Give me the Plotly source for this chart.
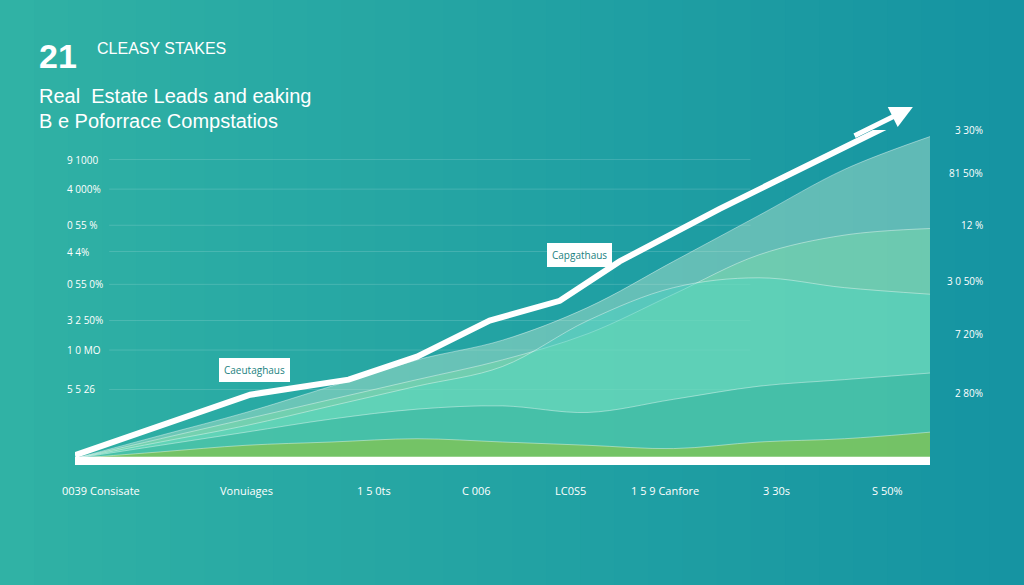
import plotly.graph_objects as go

x = [0, 10, 20, 30, 40, 50, 60, 70, 80, 90, 100]
layer_top = [0, 7, 14, 22, 30, 36, 46, 60, 74, 88, 98]
layer_mid = [0, 6, 12, 18, 24, 30, 38, 50, 62, 68, 70]
layer_cyan = [0, 5, 10, 16, 22, 28, 42, 52, 55, 52, 50]
layer_low = [0, 4, 8, 12, 15, 16, 14, 18, 22, 24, 26]
layer_green = [0, 2, 4, 5, 6, 5, 4, 3, 5, 6, 8]
trend_x = [0, 20.5, 32, 40, 48.5, 56.7, 63.7, 75.4, 98]
trend_y = [1, 19.4, 24, 31, 42, 48, 60, 76, 105]

left_ticks = ["9 1000", "4 000%", "0 55 %", "4 4%", "0 55 0%", "3 2 50%", "1 0 MO", "5 5 26"]
left_pos = [91, 82, 71, 63, 53, 42, 33, 21]
right_ticks = ["3 30%", "81 50%", "12 %", "3 0 50%", "7 20%", "2 80%"]
right_pos = [100, 87, 71, 54, 38, 20]
bottom_ticks = ["0039 Consisate", "Vonuiages", "1 5 0ts", "C 006", "LC0S5", "1 5 9 Canfore", "3 30s", "S 50%"]
bottom_pos = [3, 20, 35, 47, 58, 69, 82, 95]

fig = go.Figure()
layers = [
    (layer_top, "rgba(215,245,215,0.38)"),
    (layer_mid, "rgba(130,225,165,0.38)"),
    (layer_cyan, "rgba(70,215,195,0.40)"),
    (layer_low, "rgba(40,170,150,0.45)"),
    (layer_green, "rgba(125,195,90,0.85)"),
]
for ys, c in layers:
    fig.add_trace(go.Scatter(x=x, y=ys, fill="tozeroy", mode="lines", fillcolor=c,
                             line=dict(color="rgba(255,255,255,0.4)", width=1, shape="spline"),
                             hoverinfo="skip"))
fig.add_trace(go.Scatter(x=trend_x, y=trend_y, mode="lines", line=dict(color="white", width=6),
                         hoverinfo="skip"))

shapes = []
n = 30
X0, X1 = -75 / 855, 1 + 94 / 855
Y0, Y1 = -120 / 335, 1 + 130 / 335
for i in range(n):
    t = i / (n - 1)
    r = int(48 + (22 - 48) * t); g = int(178 + (148 - 178) * t); b = int(165 + (162 - 165) * t)
    shapes.append(dict(type="rect", xref="paper", yref="paper", x0=X0 + (X1 - X0) * i / n,
                       x1=X0 + (X1 - X0) * (i + 1) / n + 0.002,
                       y0=Y0, y1=Y1, fillcolor=f"rgb({r},{g},{b})", line=dict(width=0), layer="below"))
for p in left_pos:
    shapes.append(dict(type="line", xref="paper", yref="y", x0=0.04, x1=0.79, y0=p, y1=p,
                       line=dict(color="rgba(255,255,255,0.15)", width=1), layer="below"))
shapes.append(dict(type="rect", xref="x", yref="y", x0=0, x1=100, y0=-2, y1=0.5,
                   fillcolor="white", line=dict(width=0)))
ann = []
for t, p in zip(left_ticks, left_pos):
    ann.append(dict(text=t, x=-0.012, xref="paper", y=p, yref="y", xanchor="left", showarrow=False,
                    font=dict(color="white", size=10)))
for t, p in zip(right_ticks, right_pos):
    ann.append(dict(text=t, x=1.064, xref="paper", y=p, yref="y", xanchor="right", showarrow=False,
                    font=dict(color="white", size=10)))
for t, p in zip(bottom_ticks, bottom_pos):
    ann.append(dict(text=t, x=p, xref="x", y=-0.104, yref="paper", showarrow=False,
                    font=dict(color="white", size=11)))
ann += [
    dict(text="<b>21</b>", x=-0.045, y=1.285, xref="paper", yref="paper", xanchor="left", showarrow=False,
         font=dict(color="white", size=34, family="Liberation Sans")),
    dict(text="CLEASY STAKES", x=0.023, y=1.275, xref="paper", yref="paper", xanchor="left", showarrow=False,
         font=dict(color="white", size=16, family="Liberation Sans")),
    dict(text="Real  Estate Leads and eaking", x=-0.045, y=1.14, xref="paper", yref="paper", xanchor="left",
         showarrow=False, font=dict(color="white", size=20, family="Liberation Sans")),
    dict(text="B e Poforrace Compstatios", x=-0.045, y=1.065, xref="paper", yref="paper", xanchor="left",
         showarrow=False, font=dict(color="white", size=20, family="Liberation Sans")),
    dict(x=98, y=107, ax=91, ay=98, xref="x", yref="y", axref="x", ayref="y", text="", showarrow=True,
         arrowhead=2, arrowsize=0.9, arrowwidth=5, arrowcolor="white"),
]
for t, xx, yy in [("Ceasty Orates", 87, 113), ("Capgathaus", 59, 62), ("Caeutaghaus", 21, 27)]:
    ann.append(dict(text=t, x=xx, y=yy, xref="x", yref="y", showarrow=False, bgcolor="white",
                    bordercolor="white", borderpad=4, font=dict(color="#1a7f80", size=10)))

fig.update_layout(width=1024, height=585, margin=dict(l=75, r=94, t=130, b=120),
                  paper_bgcolor="#22a39c", plot_bgcolor="rgba(0,0,0,0)", showlegend=False,
                  shapes=shapes, annotations=ann,
                  xaxis=dict(range=[0, 100], visible=False), yaxis=dict(range=[-2, 100], visible=False))
fig.write_html("out.html", config={"displayModeBar": False})
with open("out.html") as f:
    html = f.read()
html = html.replace("<body>", '<body style="margin:0;background:#22a39c">', 1)
with open("out.html", "w") as f:
    f.write(html)
